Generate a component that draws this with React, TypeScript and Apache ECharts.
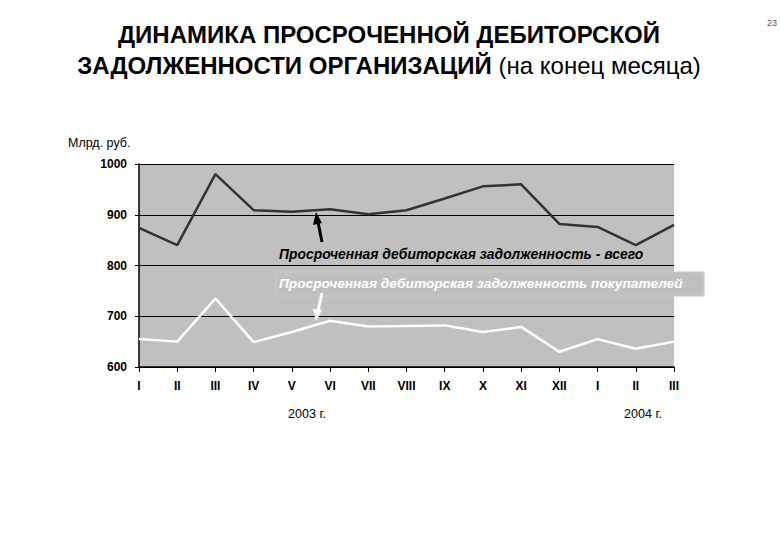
import React, { useEffect, useRef } from "react";
import * as echarts from "echarts";

const categories = ["I", "II", "III", "IV", "V", "VI", "VII", "VIII", "IX", "X", "XI", "XII", "I", "II", "III"];
const totalOverdue = [874, 840, 980, 909, 906, 911, 901, 909, 932, 956, 960, 882, 876, 840, 880];
const buyersOverdue = [655, 650, 735, 649, 669, 691, 680, 681, 682, 669, 679, 630, 655, 636, 650];
const yTicks = { min: 600, max: 1000, interval: 100 };
const yearLabels = ["2003 г.", "2004 г."];

export default function App() {
  const ref = useRef<HTMLDivElement>(null);
  useEffect(() => {
    const chart = echarts.init(ref.current!, null, { renderer: "svg" });
    const font = "Arial, 'Liberation Sans', sans-serif";
    chart.setOption({
      animation: false,
      backgroundColor: "#ffffff",
      grid: {
        left: 139,
        right: 106,
        top: 164,
        bottom: 173,
        show: true,
        backgroundColor: "#c0c0c0",
        borderWidth: 0,
      },
      xAxis: {
        type: "category",
        data: categories,
        boundaryGap: false,
        axisLine: { lineStyle: { color: "#000", width: 1.5 } },
        axisTick: { show: true, length: 5, lineStyle: { color: "#000" } },
        axisLabel: {
          color: "#000",
          fontFamily: font,
          fontWeight: "bold",
          fontSize: 12,
          margin: 13,
          interval: 0,
        },
        splitLine: { show: false },
      },
      yAxis: {
        type: "value",
        min: yTicks.min,
        max: yTicks.max,
        interval: yTicks.interval,
        axisLine: { show: true, lineStyle: { color: "#000", width: 1.5 } },
        axisTick: { show: true, length: 4, lineStyle: { color: "#000" } },
        axisLabel: {
          color: "#000",
          fontFamily: font,
          fontWeight: "bold",
          fontSize: 12,
          margin: 12,
          formatter: (v: number) => String(v),
        },
        splitLine: { show: true, lineStyle: { color: "#000", width: 1 } },
      },
      series: [
        {
          type: "line",
          data: totalOverdue,
          symbol: "none",
          lineStyle: { color: "#333333", width: 2.5 },
          z: 3,
        },
        {
          type: "line",
          data: buyersOverdue,
          symbol: "none",
          lineStyle: { color: "#ffffff", width: 2.5 },
          z: 3,
        },
      ],
      graphic: [
        {
          type: "text",
          x: 389,
          y: 34,
          style: {
            text: "ДИНАМИКА ПРОСРОЧЕННОЙ ДЕБИТОРСКОЙ",
            font: "bold 24px " + font,
            fill: "#000",
            align: "center",
            verticalAlign: "middle",
          },
        },
        {
          type: "text",
          x: 389,
          y: 65,
          style: {
            text: "{b|ЗАДОЛЖЕННОСТИ ОРГАНИЗАЦИЙ }{n|(на конец месяца)}",
            align: "center",
            verticalAlign: "middle",
            rich: {
              b: { font: "bold 24px " + font, fill: "#000" },
              n: { font: "24px " + font, fill: "#000" },
            },
          },
        },
        {
          type: "text",
          x: 777,
          y: 18,
          style: { text: "23", font: "9px " + font, fill: "#555", align: "right" },
        },
        {
          type: "text",
          x: 68,
          y: 136,
          style: { text: "Млрд. руб.", font: "12.5px " + font, fill: "#000" },
        },
        {
          type: "text",
          x: 307,
          y: 407,
          style: { text: yearLabels[0], font: "12.5px " + font, fill: "#000", align: "center" },
        },
        {
          type: "text",
          x: 643,
          y: 407,
          style: { text: yearLabels[1], font: "12.5px " + font, fill: "#000", align: "center" },
        },
        {
          type: "text",
          x: 279,
          y: 247,
          z: 10,
          style: {
            text: "Просроченная дебиторская задолженность - всего",
            font: "italic bold 13.9px " + font,
            fill: "#000",
          },
        },
        {
          type: "rect",
          z: 9,
          shape: { x: 276, y: 272, width: 428, height: 24 },
          style: { fill: "#c0c0c0", stroke: "#cacaca", lineWidth: 1 },
        },
        {
          type: "text",
          x: 279,
          y: 276,
          z: 10,
          style: {
            text: "Просроченная дебиторская задолженность покупателей",
            font: "italic bold 13.7px " + font,
            fill: "#ffffff",
            textShadowColor: "rgba(0,0,0,0.2)",
            textShadowOffsetX: 1,
            textShadowOffsetY: 1,
            textShadowBlur: 0,
          },
        },
        {
          type: "line",
          z: 10,
          shape: { x1: 322, y1: 242, x2: 318, y2: 222 },
          style: { stroke: "#000", lineWidth: 3 },
        },
        {
          type: "polygon",
          z: 10,
          shape: { points: [[316, 212], [313, 225], [322, 223]] },
          style: { fill: "#000" },
        },
        {
          type: "line",
          z: 10,
          shape: { x1: 322, y1: 293, x2: 318, y2: 311 },
          style: { stroke: "#ffffff", lineWidth: 3 },
        },
        {
          type: "polygon",
          z: 10,
          shape: { points: [[316, 321], [313, 309], [322, 310]] },
          style: { fill: "#ffffff" },
        },
      ],
    });
    return () => chart.dispose();
  }, []);
  return (
    <div
      ref={ref}
      style={{ position: "fixed", left: 0, top: 0, width: 780, height: 540 }}
    />
  );
}
